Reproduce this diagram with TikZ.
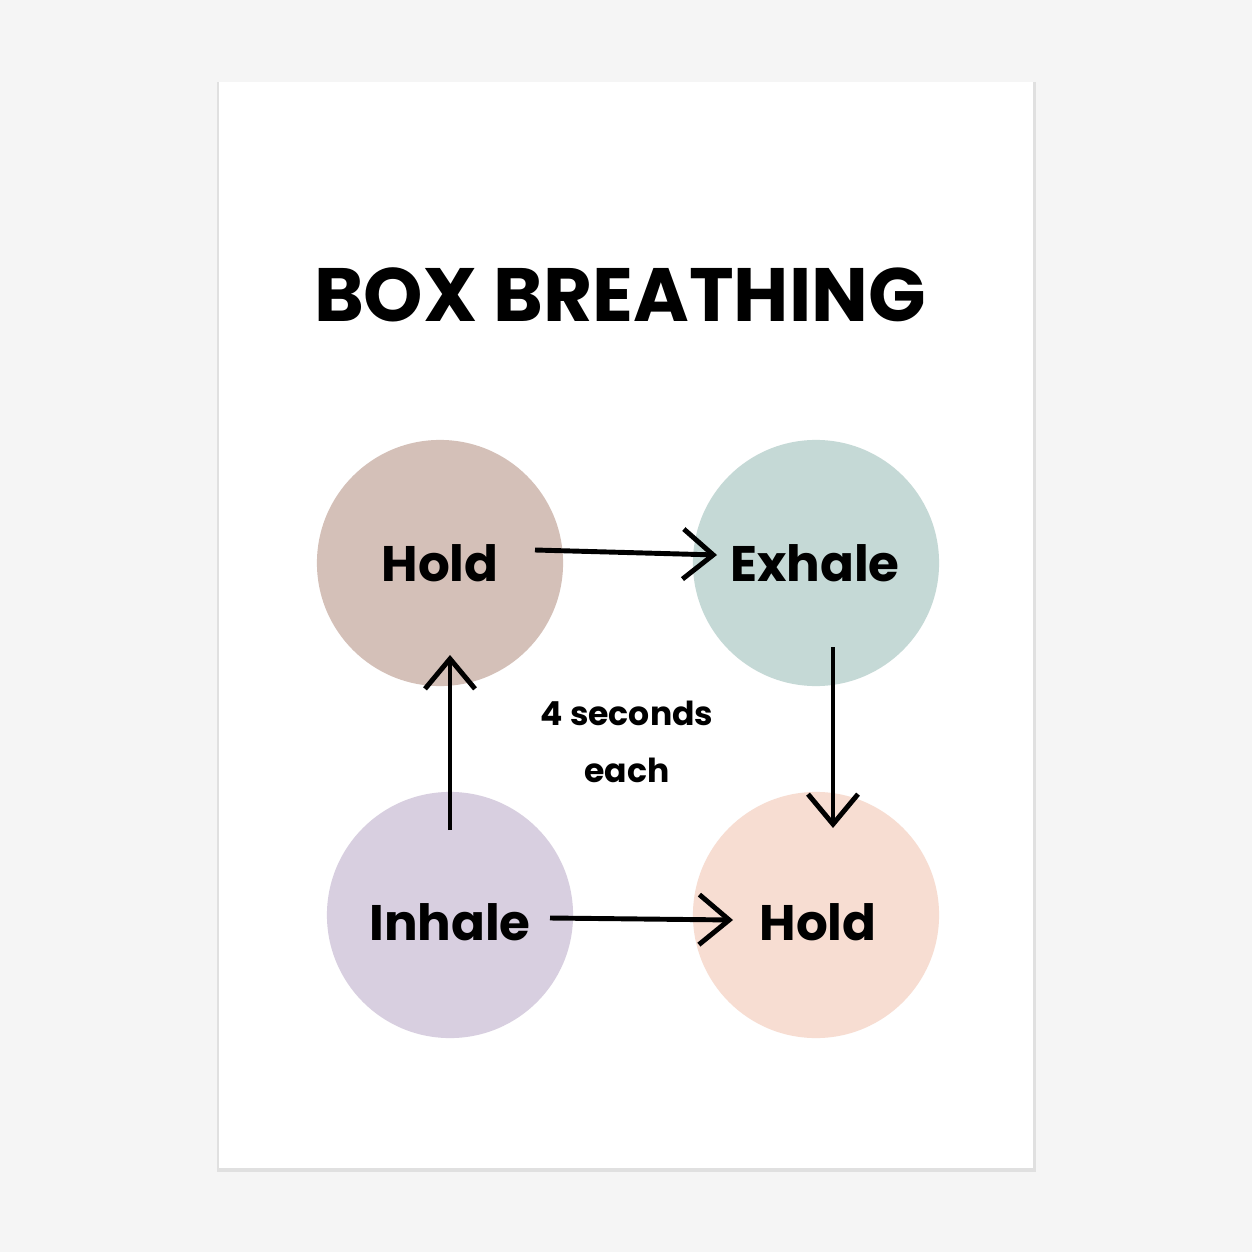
\documentclass[tikz,border=0pt]{standalone}
\usepackage{fontspec}
\setmainfont{Poppins}
\usetikzlibrary{arrows.meta}
\definecolor{bg}{HTML}{F5F5F5}
\definecolor{cA}{HTML}{D4C0B8}
\definecolor{cB}{HTML}{C5D9D6}
\definecolor{cC}{HTML}{D8CFE0}
\definecolor{cD}{HTML}{F7DDD2}
\tikzset{blob/.style={circle,minimum size=2.46cm,inner sep=0pt},
lab/.style={font=\fontsize{14.2}{17}\selectfont\bfseries},
arr/.style={line width=1.4pt,-{Straight Barb[length=3mm,width=5mm]}}}
\begin{document}
\begin{tikzpicture}[x=0.01cm,y=-0.01cm]
\useasboundingbox (0,0) rectangle (1252,1252);
\fill[bg] (0,0) rectangle (1252,1252);
\fill[black!12] (217,82) rectangle (1036,1172);
\fill[white] (219,82) rectangle (1033,1168);
\node[font=\fontsize{21.5}{26}\selectfont\bfseries] (t) at (620,295) {BOX BREATHING};
\node[blob,fill=cA] (h1) at (440,563) {};
\node[blob,fill=cB] (ex) at (816,563) {};
\node[blob,fill=cC] (in) at (450,915) {};
\node[blob,fill=cD] (h2) at (816,915) {};
\node[lab] (th1) at (440,563) {Hold};
\node[lab] (tex) at (815,563) {Exhale};
\node[lab] (tin) at (450,922) {Inhale};
\node[lab] (th2) at (818,922) {Hold};
\node[font=\fontsize{9.4}{16}\selectfont\bfseries,align=center] (sec) at (627,742) {4 seconds\\each};
\coordinate (a1) at (535,550); \coordinate (a2) at (717,555);
\coordinate (b1) at (833,647); \coordinate (b2) at (833,828);
\coordinate (c1) at (450,830); \coordinate (c2) at (450,655);
\coordinate (d1) at (550,918); \coordinate (d2) at (733,920);
\draw[arr] (a1) -- (a2);
\draw[arr] (b1) -- (b2);
\draw[arr] (c1) -- (c2);
\draw[arr] (d1) -- (d2);
\end{tikzpicture}
\end{document}
